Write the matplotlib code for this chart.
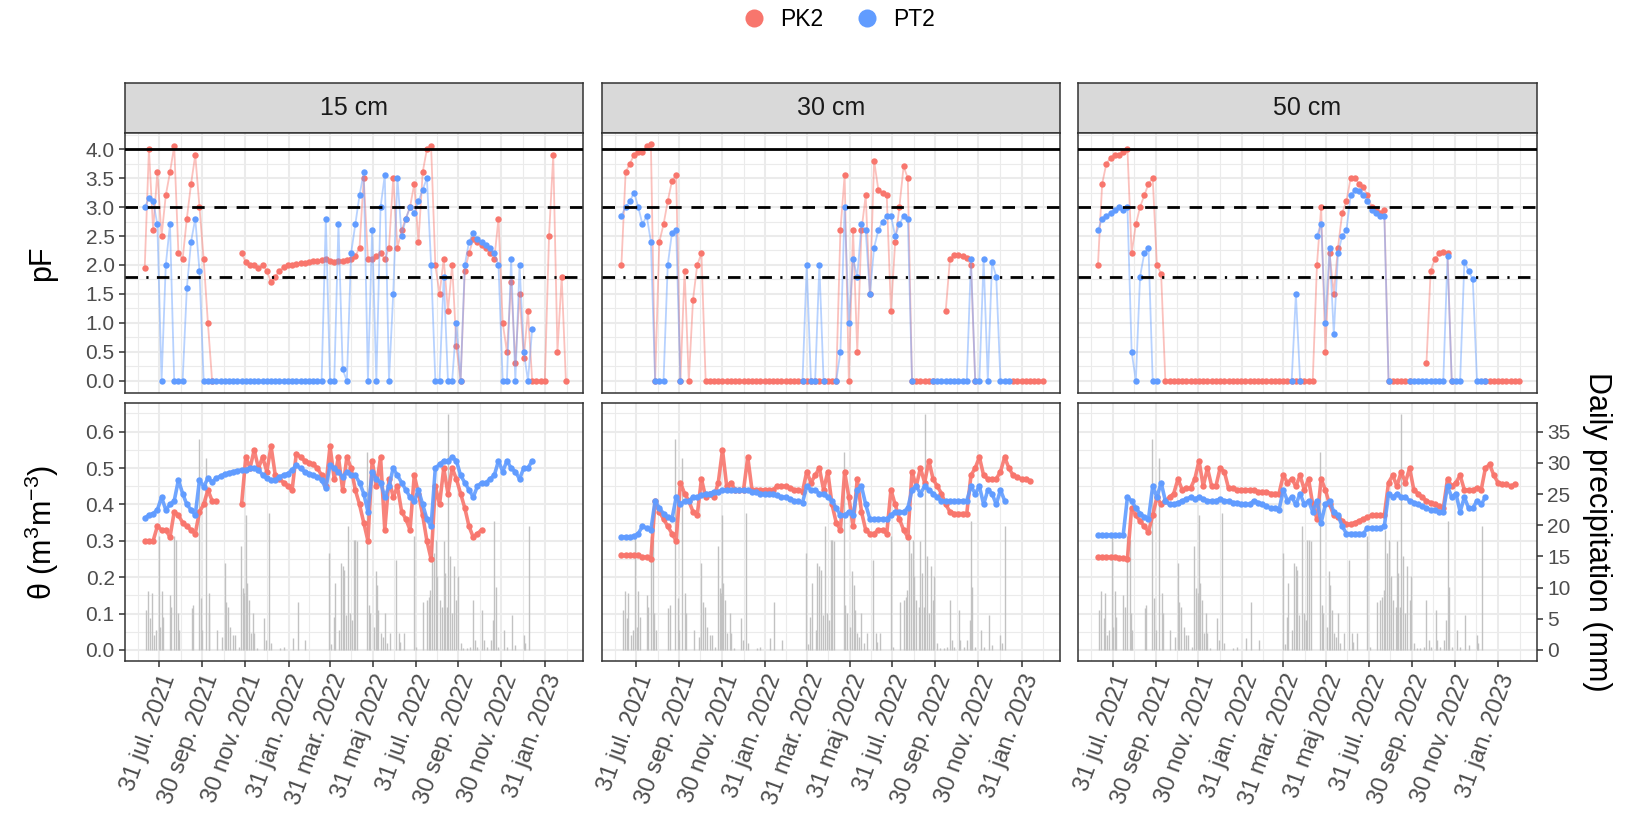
import numpy as np
import pandas as pd
import matplotlib
matplotlib.use("Agg")
import matplotlib.pyplot as plt
from matplotlib.lines import Line2D

nan = np.nan

# sensor readings: one value every 6 days starting 10 jul. 2021
start = "2021-07-10"
n_obs = 101

depths = ["15 cm", "30 cm", "50 cm"]

# ---- pF -------------------------------------------------------------
pf_pk2_15 = [1.95, 4.0, 2.6, 3.6, 2.5, 3.2, 3.6, 4.05, 2.2, 2.1,
             2.8, 3.4, 3.9, 3.0, 2.1, 1.0, 0.0, nan, nan, nan,
             nan, nan, nan, 2.2, 2.05, 2.0, 2.0, 1.95, 2.0, 1.9,
             1.7, 1.8, 1.9, 1.97, 2.0, 2.0, 2.02, 2.03, 2.04, 2.05,
             2.06, 2.07, 2.08, 2.1, 2.07, 2.05, 2.06, 2.07, 2.08, 2.1,
             2.15, 2.3, 3.5, 2.1, 2.1, 2.15, 2.2, 2.1, 2.3, 3.5,
             2.3, 2.6, 2.8, 3.0, 3.4, 2.4, 3.6, 4.0, 4.05, 2.0,
             1.5, 2.1, 1.2, 2.0, 0.6, 0.0, 1.9, 2.2, 2.45, 2.4,
             2.35, 2.3, 2.2, 2.1, 2.8, 1.0, 0.5, 1.7, 0.3, 1.5,
             0.4, 1.2, 0.0, 0.0, 0.0, 0.0, 2.5, 3.9, 0.5, 1.8, 0.0]
pf_pt2_15 = [3.0, 3.15, 3.1, 2.7, 0.0, 2.0, 2.7, 0.0, 0.0, 0.0,
             1.6, 2.4, 2.8, 1.9, 0.0, 0.0, 0.0, 0.0, 0.0, 0.0,
             0.0, 0.0, 0.0, 0.0, 0.0, 0.0, 0.0, 0.0, 0.0, 0.0,
             0.0, 0.0, 0.0, 0.0, 0.0, 0.0, 0.0, 0.0, 0.0, 0.0,
             0.0, 0.0, 0.0, 2.8, 0.0, 0.0, 2.7, 0.2, 0.0, 2.2,
             2.7, 3.2, 3.6, 0.0, 2.6, 0.0, 3.0, 3.55, 0.0, 1.5,
             3.5, 2.5, 2.8, 3.0, 2.9, 3.1, 3.3, 3.5, 2.0, 0.0,
             0.0, 1.8, 0.0, 0.0, 1.0, 0.0, 2.0, 2.4, 2.55, 2.45,
             2.4, 2.35, 2.3, 2.2, 2.0, 0.0, 0.0, 2.1, 0.0, 2.0,
             0.5, 0.0, 0.9, nan, nan, nan, nan, nan, nan, nan, nan]
pf_pk2_30 = [2.0, 3.6, 3.75, 3.9, 3.95, 3.95, 4.05, 4.08, 0.0, 2.4,
             2.7, 3.1, 3.45, 3.55, 0.0, 1.9, 0.0, 1.4, 2.0, 2.2,
             0.0, 0.0, 0.0, 0.0, 0.0, 0.0, 0.0, 0.0, 0.0, 0.0,
             0.0, 0.0, 0.0, 0.0, 0.0, 0.0, 0.0, 0.0, 0.0, 0.0,
             0.0, 0.0, 0.0, 0.0, 0.0, 0.0, 0.0, 0.0, 0.0, 0.0,
             0.0, 0.0, 2.6, 3.55, 0.0, 2.6, 0.5, 2.6, 3.2, 1.5,
             3.8, 3.3, 3.25, 3.2, 1.2, 2.4, 3.0, 3.7, 3.5, 0.0,
             0.0, 0.0, 0.0, 0.0, 0.0, nan, nan, 1.2, 2.1, 2.17,
             2.18, 2.16, 2.12, 2.0, 0.0, nan, nan, nan, nan, nan,
             nan, nan, nan, 0.0, 0.0, 0.0, 0.0, 0.0, 0.0, 0.0, 0.0]
pf_pt2_30 = [2.85, 3.0, 3.1, 3.25, 3.0, 2.7, 2.85, 2.4, 0.0, 0.0,
             0.0, 2.0, 2.55, 2.6, 0.0, nan, nan, nan, nan, nan,
             nan, nan, nan, nan, nan, nan, nan, nan, nan, nan,
             nan, nan, nan, nan, nan, nan, nan, nan, nan, nan,
             nan, nan, nan, 0.0, 2.0, 0.0, 0.0, 2.0, 0.0, nan,
             nan, 0.0, 0.5, 3.0, 1.0, 2.1, 1.8, 2.7, 2.6, 1.5,
             2.3, 2.6, 2.75, 2.85, 2.85, 2.5, 2.7, 2.85, 2.8, 0.0,
             nan, nan, nan, nan, 0.0, 0.0, 0.0, 0.0, 0.0, 0.0,
             0.0, 0.0, 0.0, 2.1, 0.0, 0.0, 2.1, 0.0, 2.05, 1.8,
             0.0, 0.0, 0.0, nan, nan, nan, nan, nan, nan, nan, nan]
pf_pk2_50 = [2.0, 3.4, 3.75, 3.85, 3.9, 3.9, 3.95, 4.0, 2.2, 2.7,
             3.0, 3.2, 3.4, 3.5, 2.0, 1.85, 0.0, 0.0, 0.0, 0.0,
             0.0, 0.0, 0.0, 0.0, 0.0, 0.0, 0.0, 0.0, 0.0, 0.0,
             0.0, 0.0, 0.0, 0.0, 0.0, 0.0, 0.0, 0.0, 0.0, 0.0,
             0.0, 0.0, 0.0, 0.0, 0.0, 0.0, 0.0, 0.0, 0.0, 0.0,
             0.0, 0.0, 2.0, 3.0, 0.5, 2.2, 1.5, 2.3, 2.9, 3.1,
             3.5, 3.5, 3.4, 3.35, 3.2, 3.0, 2.95, 2.9, 2.95, 0.0,
             0.0, 0.0, 0.0, 0.0, 0.0, nan, nan, nan, 0.3, 1.9,
             2.1, 2.2, 2.22, 2.2, 0.0, nan, nan, nan, nan, nan,
             nan, nan, 0.0, 0.0, 0.0, 0.0, 0.0, 0.0, 0.0, 0.0, 0.0]
pf_pt2_50 = [2.6, 2.8, 2.85, 2.9, 2.95, 3.0, 2.95, 3.0, 0.5, 0.0,
             1.8, 2.2, 2.3, 0.0, 0.0, nan, nan, nan, nan, nan,
             nan, nan, nan, nan, nan, nan, nan, nan, nan, nan,
             nan, nan, nan, nan, nan, nan, nan, nan, nan, nan,
             nan, nan, nan, nan, nan, nan, 0.0, 1.5, 0.0, nan,
             nan, nan, 2.5, 2.7, 1.0, 2.3, 0.8, 2.2, 2.5, 2.6,
             3.2, 3.3, 3.28, 3.2, 3.1, 2.95, 2.9, 2.85, 2.85, 0.0,
             nan, nan, nan, nan, 0.0, 0.0, 0.0, 0.0, 0.0, 0.0,
             0.0, 0.0, 0.0, 2.15, 0.0, 0.0, 0.0, 2.05, 1.9, 1.75,
             0.0, 0.0, 0.0, nan, nan, nan, nan, nan, nan, nan, nan]

# ---- volumetric water content (m3/m3) -------------------------------
th_pk2_15 = [0.30, 0.30, 0.30, 0.34, 0.33, 0.33, 0.31, 0.38, 0.37, 0.35,
             0.34, 0.33, 0.32, 0.38, 0.40, 0.44, 0.41, 0.41, nan, nan,
             nan, nan, nan, 0.40, 0.53, 0.50, 0.55, 0.50, 0.53, 0.49,
             0.56, 0.48, 0.47, 0.46, 0.45, 0.44, 0.54, 0.53, 0.52, 0.515,
             0.51, 0.50, 0.48, 0.45, 0.56, 0.47, 0.53, 0.44, 0.53, 0.50,
             0.44, 0.40, 0.35, 0.30, 0.52, 0.45, 0.53, 0.33, 0.47, 0.42,
             0.45, 0.38, 0.36, 0.33, 0.48, 0.43, 0.37, 0.30, 0.25, 0.45,
             0.40, 0.50, 0.43, 0.50, 0.47, 0.43, 0.39, 0.34, 0.31, 0.32,
             0.33, nan, nan, nan, nan, nan, nan, nan, nan, nan,
             nan, nan, nan, nan, nan, nan, nan, nan, nan, nan, nan]
th_pt2_15 = [0.362, 0.371, 0.375, 0.385, 0.42, 0.385, 0.40, 0.41, 0.467, 0.43,
             0.40, 0.385, 0.371, 0.467, 0.449, 0.472, 0.462, 0.472, 0.478, 0.483,
             0.487, 0.49, 0.493, 0.495, 0.496, 0.499, 0.499, 0.495, 0.481, 0.472,
             0.467, 0.467, 0.476, 0.481, 0.485, 0.495, 0.508, 0.499, 0.49, 0.485,
             0.481, 0.476, 0.467, 0.444, 0.508, 0.499, 0.49, 0.476, 0.49, 0.481,
             0.48, 0.46, 0.43, 0.38, 0.49, 0.47, 0.46, 0.42, 0.45, 0.50,
             0.48, 0.46, 0.44, 0.42, 0.41, 0.44, 0.40, 0.36, 0.34, 0.50,
             0.51, 0.52, 0.52, 0.53, 0.52, 0.48, 0.46, 0.44, 0.42, 0.45,
             0.46, 0.46, 0.47, 0.48, 0.52, 0.49, 0.52, 0.50, 0.49, 0.47,
             0.50, 0.50, 0.52, nan, nan, nan, nan, nan, nan, nan, nan]
th_pk2_30 = [0.26, 0.26, 0.26, 0.26, 0.26, 0.255, 0.255, 0.25, 0.41, 0.38,
             0.36, 0.34, 0.32, 0.30, 0.46, 0.43, 0.41, 0.38, 0.37, 0.47,
             0.42, 0.43, 0.42, 0.46, 0.55, 0.45, 0.46, 0.44, 0.44, 0.44,
             0.53, 0.44, 0.44, 0.44, 0.44, 0.44, 0.44, 0.45, 0.45, 0.45,
             0.445, 0.44, 0.44, 0.435, 0.49, 0.46, 0.48, 0.50, 0.44, 0.49,
             0.40, 0.35, 0.33, 0.49, 0.42, 0.34, 0.47, 0.38, 0.33, 0.32,
             0.32, 0.33, 0.33, 0.32, 0.44, 0.40, 0.36, 0.33, 0.31, 0.49,
             0.45, 0.50, 0.46, 0.52, 0.47, 0.45, 0.43, 0.40, 0.38, 0.375,
             0.375, 0.375, 0.375, 0.48, 0.50, 0.53, 0.48, 0.47, 0.47, 0.47,
             0.49, 0.53, 0.50, 0.48, 0.475, 0.47, 0.47, 0.465, nan, nan, nan]
th_pt2_30 = [0.311, 0.311, 0.311, 0.312, 0.32, 0.34, 0.335, 0.33, 0.41, 0.39,
             0.375, 0.365, 0.36, 0.42, 0.40, 0.41, 0.41, 0.42, 0.42, 0.425,
             0.43, 0.43, 0.435, 0.435, 0.44, 0.44, 0.44, 0.44, 0.44, 0.44,
             0.44, 0.435, 0.435, 0.43, 0.43, 0.43, 0.43, 0.425, 0.42, 0.42,
             0.415, 0.41, 0.41, 0.405, 0.45, 0.44, 0.44, 0.43, 0.43, 0.42,
             0.41, 0.39, 0.37, 0.37, 0.38, 0.37, 0.44, 0.45, 0.40, 0.36,
             0.36, 0.36, 0.36, 0.36, 0.37, 0.38, 0.38, 0.38, 0.39, 0.44,
             0.45, 0.43, 0.45, 0.44, 0.43, 0.42, 0.41, 0.41, 0.41, 0.41,
             0.41, 0.41, 0.41, 0.45, 0.43, 0.45, 0.40, 0.44, 0.43, 0.40,
             0.44, 0.41, nan, nan, nan, nan, nan, nan, nan, nan, nan]
th_pk2_50 = [0.256, 0.256, 0.255, 0.255, 0.255, 0.254, 0.253, 0.25, 0.39, 0.37,
             0.355, 0.34, 0.325, 0.37, 0.42, 0.40, 0.41, 0.42, 0.43, 0.47,
             0.44, 0.445, 0.445, 0.47, 0.52, 0.45, 0.50, 0.45, 0.45, 0.50,
             0.49, 0.445, 0.445, 0.44, 0.44, 0.44, 0.44, 0.44, 0.435, 0.435,
             0.435, 0.43, 0.43, 0.43, 0.48, 0.46, 0.47, 0.45, 0.48, 0.44,
             0.47, 0.40, 0.36, 0.47, 0.44, 0.40, 0.37, 0.365, 0.355, 0.345,
             0.345, 0.35, 0.355, 0.36, 0.365, 0.37, 0.37, 0.37, 0.37, 0.46,
             0.48, 0.45, 0.49, 0.46, 0.50, 0.44, 0.43, 0.42, 0.41, 0.405,
             0.40, 0.395, 0.39, 0.47, 0.45, 0.46, 0.48, 0.44, 0.44, 0.44,
             0.445, 0.44, 0.50, 0.51, 0.48, 0.46, 0.455, 0.455, 0.45, 0.455, nan]
th_pt2_50 = [0.316, 0.316, 0.316, 0.316, 0.316, 0.316, 0.316, 0.42, 0.41, 0.39,
             0.375, 0.365, 0.36, 0.45, 0.42, 0.46, 0.41, 0.40, 0.40, 0.405,
             0.41, 0.415, 0.42, 0.415, 0.42, 0.415, 0.41, 0.41, 0.41, 0.415,
             0.41, 0.41, 0.405, 0.405, 0.40, 0.40, 0.40, 0.41, 0.405, 0.40,
             0.395, 0.39, 0.39, 0.385, 0.44, 0.41, 0.42, 0.40, 0.43, 0.40,
             0.41, 0.38, 0.41, 0.35, 0.40, 0.41, 0.38, 0.37, 0.34, 0.32,
             0.32, 0.32, 0.32, 0.32, 0.335, 0.335, 0.335, 0.335, 0.34, 0.43,
             0.42, 0.43, 0.42, 0.42, 0.41, 0.405, 0.40, 0.395, 0.39, 0.385,
             0.385, 0.38, 0.38, 0.45, 0.42, 0.43, 0.38, 0.42, 0.39, 0.39,
             0.41, 0.40, 0.42, nan, nan, nan, nan, nan, nan, nan, nan]

# ---- daily precipitation: days after 31 jul. 2021, mm ---------------
rain_day = [-19, -16, -13, -11, -8, -5, -1, 1, 3, 5, 15, 17, 21, 24, 26, 28,
            46, 48, 56, 59, 61, 66, 70, 71, 82, 89, 93, 95, 98, 101, 105, 108,
            113, 116, 119, 121, 123, 124, 127, 130, 133, 135, 139, 149, 152,
            156, 159, 172, 177, 190, 197, 208, 242, 245, 248, 250, 256, 258,
            261, 263, 266, 269, 272, 275, 277, 279, 282, 296, 298, 300, 305,
            308, 310, 312, 315, 318, 321, 324, 329, 337, 341, 343, 348, 363,
            366, 376, 381, 384, 386, 388, 391, 394, 396, 399, 403, 405, 407,
            410, 411, 414, 417, 420, 423, 425, 429, 433, 438, 443, 447, 450,
            453, 460, 462, 467, 472, 475, 477, 479, 483, 491, 495, 502, 507,
            519, 521, 526]
rain_mm = [6.4, 9.5, 5.1, 9.1, 2.4, 3.2, 18.2, 3.7, 9.5, 5.3, 8.8, 6.9, 18.2,
           17.6, 5.9, 3.2, 6.7, 7.2, 33.9, 8.3, 3.2, 30.7, 9.1, 5.9, 3.2, 2.1,
           13.9, 7.7, 6.9, 3.7, 2.4, 2.4, 0.5, 16.6, 9.9, 9.1, 21.6, 10.7, 8.0,
           2.7, 5.9, 2.7, 0.3, 5.1, 1.6, 21.9, 1.1, 0.3, 0.5, 1.9, 7.7, 1.6,
           15.5, 0.9, 5.3, 10.7, 3.2, 13.9, 13.4, 12.8, 5.6, 19.8, 5.9, 4.8,
           17.6, 17.6, 17.4, 31.8, 7.2, 5.9, 3.7, 12.6, 10.4, 6.4, 2.7, 2.1,
           5.9, 1.1, 2.7, 14.4, 2.7, 1.3, 2.7, 18.2, 0.5, 7.7, 8.0, 8.5, 9.6,
           19.2, 15.5, 17.6, 11.8, 8.0, 6.9, 17.4, 12.3, 6.9, 37.9, 15.0, 5.9,
           13.4, 8.0, 11.8, 1.1, 0.3, 0.3, 0.5, 8.0, 1.6, 0.5, 6.4, 1.6, 0.5,
           1.6, 4.8, 20.6, 10.1, 0.5, 3.2, 0.5, 5.6, 0.8, 2.4, 1.1, 19.8]

tick_dates = ["2021-07-31", "2021-09-30", "2021-11-30", "2022-01-31", "2022-03-31",
              "2022-05-31", "2022-07-31", "2022-09-30", "2022-11-30", "2023-01-31"]
tick_labels = ["31 jul. 2021", "30 sep. 2021", "30 nov. 2021", "31 jan. 2022",
               "31 mar. 2022", "31 maj 2022", "31 jul. 2022", "30 sep. 2022",
               "30 nov. 2022", "31 jan. 2023"]

pf_series = {"15 cm": (pf_pk2_15, pf_pt2_15), "30 cm": (pf_pk2_30, pf_pt2_30),
             "50 cm": (pf_pk2_50, pf_pt2_50)}
th_series = {"15 cm": (th_pk2_15, th_pt2_15), "30 cm": (th_pk2_30, th_pt2_30),
             "50 cm": (th_pk2_50, th_pt2_50)}

RED, BLUE = "#F8766D", "#619CFF"
GRID = "#EBEBEB"
FRAME = "#333333"

plt.rcParams["font.family"] = ["Liberation Sans", "DejaVu Sans"]
plt.rcParams["mathtext.fontset"] = "custom"
plt.rcParams["mathtext.rm"] = "Liberation Sans"
plt.rcParams["mathtext.it"] = "Liberation Sans:italic"

dates = pd.date_range(start, periods=n_obs, freq="6D")
rain_dates = pd.Timestamp("2021-07-31") + pd.to_timedelta(rain_day, unit="D")
ticks = pd.to_datetime(tick_dates)
minor = [a + (b - a) / 2 for a, b in zip(ticks[:-1], ticks[1:])]
minor = [ticks[0] - (ticks[1] - ticks[0]) / 2] + minor + [ticks[-1] + (ticks[-1] - ticks[-2]) / 2]
xlim = (pd.Timestamp("2021-06-12"), pd.Timestamp("2023-03-27"))

mm_per_theta = 35 / 0.6


def theta_to_mm(t):
    return np.asarray(t) * mm_per_theta


def mm_to_theta(m):
    return np.asarray(m) / mm_per_theta


def draw(ax, y, color, lw, alpha):
    ax.plot(dates, y, color=color, lw=lw, alpha=alpha, zorder=2,
            solid_capstyle="round")
    ax.plot(dates, y, ls="none", marker="o", ms=4.6, mew=0, color=color, zorder=2)


def style(ax, yticks, yminor):
    for s in ax.spines.values():
        s.set_color(FRAME)
        s.set_linewidth(1.1)
    ax.set_xlim(*xlim)
    ax.set_xticks(ticks)
    ax.set_xticks(minor, minor=True)
    ax.set_yticks(yticks)
    ax.set_yticks(yminor, minor=True)
    ax.grid(True, which="major", color=GRID, lw=1.5)
    ax.grid(True, which="minor", color=GRID, lw=0.8)
    ax.set_axisbelow(True)
    ax.tick_params(which="major", color=FRAME, labelcolor="#4D4D4D",
                   length=4, width=1.1)
    ax.tick_params(axis="y", labelsize=15)
    ax.tick_params(axis="x", labelsize=17)
    ax.tick_params(which="minor", length=0)


fig = plt.figure(figsize=(16.37, 8.30), dpi=100)
lefts = [0.0764, 0.3676, 0.6587]
width = 0.28

pf_ticks = np.arange(0, 4.01, 0.5)
th_ticks = np.arange(0, 0.61, 0.1)

for c, depth in enumerate(depths):
    # strip
    sx = fig.add_axes([lefts[c], 0.8392, width, 0.0602])
    sx.set_facecolor("#D9D9D9")
    sx.set_xticks([])
    sx.set_yticks([])
    for s in sx.spines.values():
        s.set_color(FRAME)
        s.set_linewidth(1.1)
    sx.text(0.5, 0.5, depth, ha="center", va="center", fontsize=18, color="#1A1A1A",
            transform=sx.transAxes)

    # pF panel
    ax = fig.add_axes([lefts[c], 0.5265, width, 0.3127])
    style(ax, pf_ticks, np.arange(0.25, 4.3, 0.5))
    ax.set_ylim(-0.21, 4.27)
    pk2, pt2 = pf_series[depth]
    draw(ax, pk2, RED, 1.3, 0.45)
    draw(ax, pt2, BLUE, 1.3, 0.45)
    ax.axhline(4.0, color="black", lw=2.0, zorder=3)
    ax.axhline(3.0, color="black", lw=2.0, dashes=(4.5, 3.5), zorder=3)
    ax.axhline(1.8, color="black", lw=2.0, dashes=(4.5, 3.0, 0.8, 3.0), zorder=3)
    ax.tick_params(axis="x", which="both", length=0, labelbottom=False)
    if c == 0:
        ax.set_yticklabels([f"{v:.1f}" for v in pf_ticks])
        ax.set_ylabel("pF", fontsize=22, va="center")
        ax.yaxis.set_label_coords(-0.181, 0.5)
    else:
        ax.tick_params(axis="y", which="both", length=0, labelleft=False)

    # water content panel with daily precipitation
    bx = fig.add_axes([lefts[c], 0.2040, width, 0.3101])
    style(bx, th_ticks, np.arange(0.05, 0.68, 0.1))
    bx.set_ylim(-0.0294, 0.678)
    bx.vlines(rain_dates, 0, mm_to_theta(rain_mm), color="#C2C2C2", lw=1.0, zorder=1.5)
    pk2, pt2 = th_series[depth]
    draw(bx, pk2, RED, 2.6, 0.9)
    draw(bx, pt2, BLUE, 2.6, 0.9)
    bx.set_xticklabels(tick_labels, rotation=70, ha="right", va="top",
                       rotation_mode="anchor")
    if c == 0:
        bx.set_yticklabels([f"{v:.1f}" for v in th_ticks])
        bx.set_ylabel(r"θ (m$^{3}$m$^{-3}$)", fontsize=22, va="center")
        bx.yaxis.set_label_coords(-0.181, 0.5)
    else:
        bx.tick_params(axis="y", which="both", length=0, labelleft=False)
    if c == 2:
        sec = bx.secondary_yaxis("right", functions=(theta_to_mm, mm_to_theta))
        sec.set_yticks(np.arange(0, 36, 5))
        sec.tick_params(color=FRAME, labelcolor="#4D4D4D", labelsize=15, length=4, width=1.1)
        sec.spines["right"].set_visible(False)

fig.text(1597 / 1637, 1 - 532 / 830, "Daily precipitation (mm)", fontsize=22,
         rotation=270, ha="center", va="center")

handles = [Line2D([], [], ls="none", marker="o", ms=13, mew=0, color=RED, label="PK2"),
           Line2D([], [], ls="none", marker="o", ms=13, mew=0, color=BLUE, label="PT2")]
fig.legend(handles=handles, loc="upper center", bbox_to_anchor=(0.509, 1.006), ncol=2,
           frameon=False, fontsize=16.5, handletextpad=0.15, columnspacing=0.9,
           borderaxespad=0.15)

fig.savefig("out.png", dpi=100)
